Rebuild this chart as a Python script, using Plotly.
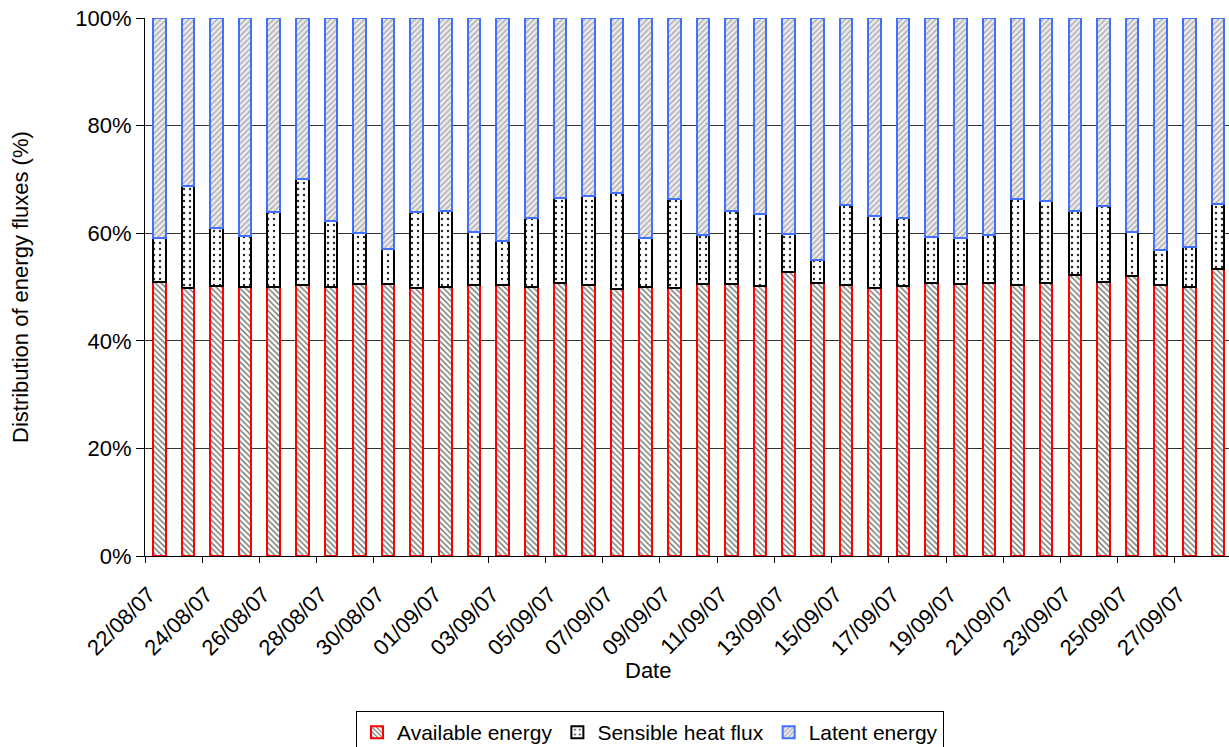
import plotly.graph_objects as go

dates = ["22/08/07", "23/08/07", "24/08/07", "25/08/07", "26/08/07", "27/08/07",
         "28/08/07", "29/08/07", "30/08/07", "31/08/07", "01/09/07", "02/09/07",
         "03/09/07", "04/09/07", "05/09/07", "06/09/07", "07/09/07", "08/09/07",
         "09/09/07", "10/09/07", "11/09/07", "12/09/07", "13/09/07", "14/09/07",
         "15/09/07", "16/09/07", "17/09/07", "18/09/07", "19/09/07", "20/09/07",
         "21/09/07", "22/09/07", "23/09/07", "24/09/07", "25/09/07", "26/09/07",
         "27/09/07", "28/09/07"]

# Available energy share (%)
available = [50.9, 49.9, 50.1, 50.0, 50.0, 50.4, 50.0, 50.5, 50.5, 49.9,
             50.0, 50.3, 50.4, 50.0, 50.8, 50.3, 49.7, 50.0, 49.9, 50.5,
             50.5, 50.2, 52.8, 50.7, 50.3, 49.9, 50.1, 50.7, 50.5, 50.8,
             50.4, 50.7, 52.3, 51.0, 52.0, 50.3, 50.0, 53.3]
# Cumulative top of sensible heat flux (%)
sensible_top = [59.1, 68.8, 60.9, 59.4, 63.9, 70.1, 62.2, 60.0, 57.1, 64.0,
                64.2, 60.3, 58.6, 62.9, 66.5, 66.9, 67.5, 59.2, 66.4, 59.7,
                64.2, 63.6, 59.8, 55.1, 65.3, 63.2, 62.8, 59.3, 59.2, 59.7,
                66.4, 66.0, 64.2, 65.1, 60.2, 56.8, 57.5, 65.5]

sensible = [round(t - a, 1) for t, a in zip(sensible_top, available)]
latent = [round(100 - t, 1) for t in sensible_top]

x = list(range(len(dates)))
FONT = "Liberation Sans, Arial, sans-serif"
FS = 22

fig = go.Figure()
fig.add_trace(go.Bar(
    x=x, y=available, name="Available energy",
    marker=dict(color="white", line=dict(color="#FF0000", width=2),
                pattern=dict(shape="\\", fgcolor="#6E6E6E", bgcolor="white",
                             size=4, solidity=0.35, fillmode="replace")),
))
fig.add_trace(go.Bar(
    x=x, y=sensible, name="Sensible heat flux",
    marker=dict(color="white", line=dict(color="#000000", width=2),
                pattern=dict(shape=".", fgcolor="#222222", bgcolor="white",
                             size=6, solidity=0.12, fillmode="replace")),
))
fig.add_trace(go.Bar(
    x=x, y=latent, name="Latent energy",
    marker=dict(color="#E6E6E6", line=dict(color="#4070FF", width=2),
                pattern=dict(shape="/", fgcolor="#A8A8A8", bgcolor="#ECECEC",
                             size=4, solidity=0.35, fillmode="replace")),
))

tickvals = [i - 0.5 for i in range(0, len(dates), 2)]
ticktext = [dates[i] for i in range(0, len(dates), 2)]

fig.update_layout(
    barmode="stack",
    bargap=0.56,
    width=1229, height=747,
    margin=dict(l=145, r=0, t=18, b=191),
    plot_bgcolor="white", paper_bgcolor="white",
    font=dict(family=FONT, size=FS, color="black"),
    showlegend=True,
    legend=dict(orientation="h", xref="container", yref="container",
                x=650 / 1229, xanchor="center", y=1 - 711 / 747, yanchor="top",
                bordercolor="#000000", borderwidth=1, traceorder="normal",
                font=dict(family=FONT, size=21, color="black"),
                itemwidth=30, tracegroupgap=0),
    xaxis=dict(range=[-0.5, 37.39], tickvals=tickvals, ticktext=ticktext,
               tickangle=-45, ticks="outside", ticklen=6, tickcolor="black",
               ticklabelstandoff=10, ticklabelshift=4,
               showline=True, linecolor="black", linewidth=1,
               showgrid=False, zeroline=False,
               tickfont=dict(family=FONT, size=FS, color="black")),
    yaxis=dict(range=[0, 100], dtick=20, ticksuffix="%",
               ticks="outside", ticklen=8, tickcolor="black",
               showline=True, linecolor="black", linewidth=1,
               showgrid=True, gridcolor="#333333", gridwidth=1,
               zeroline=False,
               tickfont=dict(family=FONT, size=FS, color="black")),
    annotations=[
        dict(text="Date", xref="paper", yref="paper",
             x=(648 - 145) / 1084, y=(556 - 670) / 538,
             xanchor="center", yanchor="middle", showarrow=False,
             font=dict(family=FONT, size=FS, color="black")),
        dict(text="Distribution of energy fluxes (%)", xref="paper", yref="paper",
             x=(20 - 145) / 1084, y=0.5, textangle=-90,
             xanchor="center", yanchor="middle", showarrow=False,
             font=dict(family=FONT, size=FS, color="black")),
    ],
)

fig.write_html("out.html")
